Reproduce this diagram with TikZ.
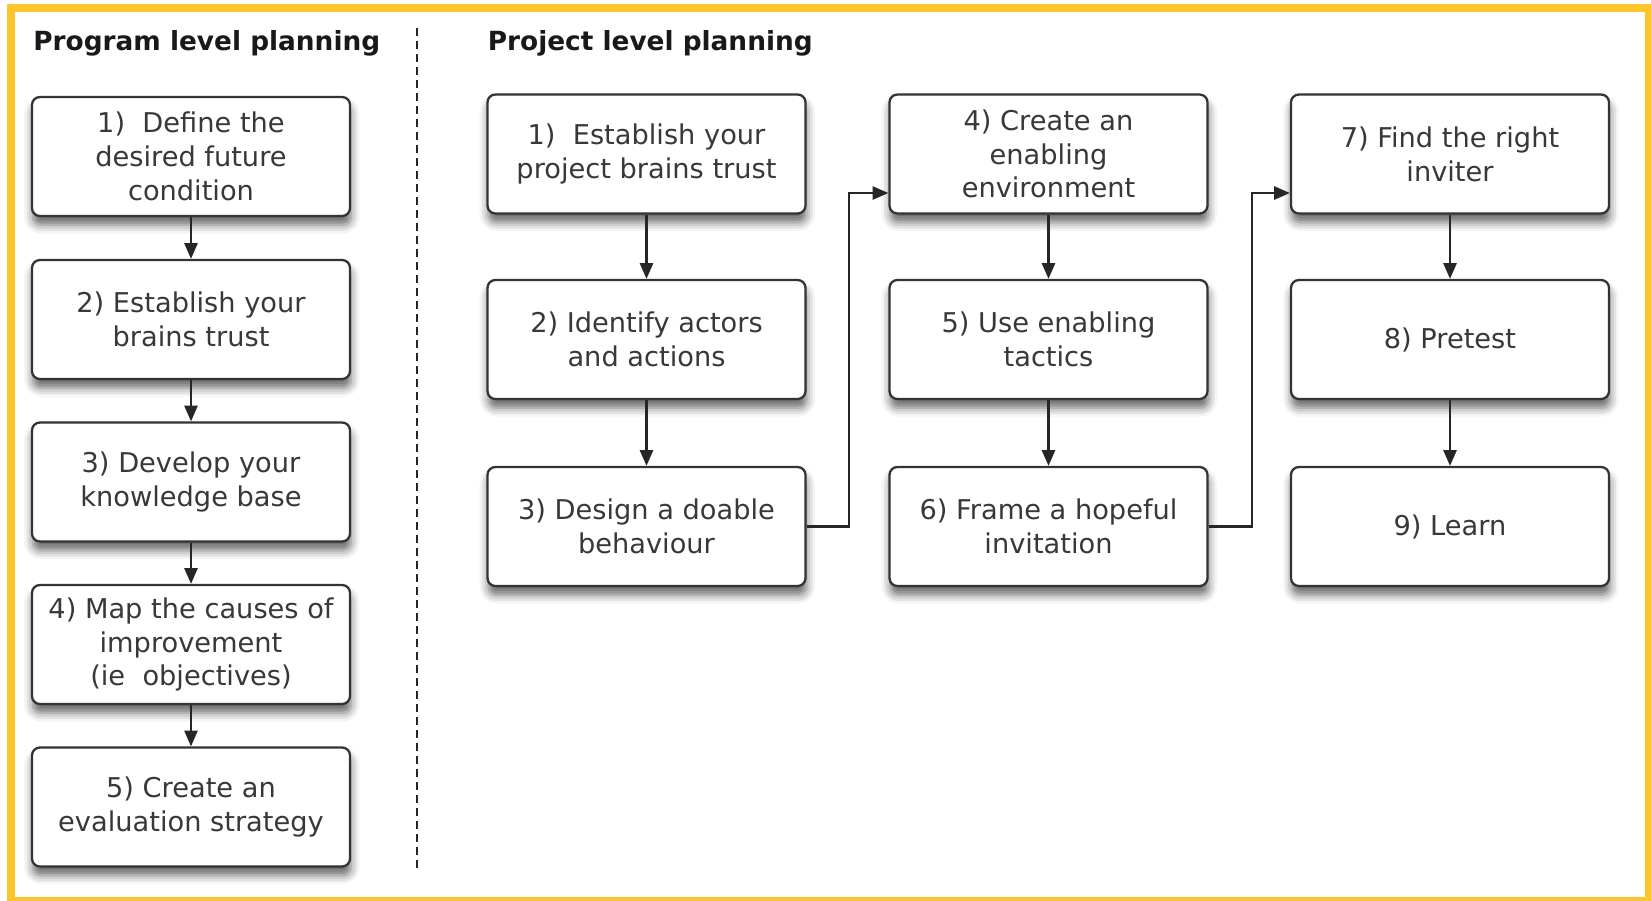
\documentclass[tikz,border=0pt]{standalone}
\usepackage{fontspec}
\setmainfont{DejaVu Sans}
\usetikzlibrary{arrows.meta,positioning,shadows.blur}
\definecolor{frameyellow}{RGB}{252,197,45}

\begin{document}
\begin{tikzpicture}[
    box/.style={draw=black!80, line width=1.3pt, rounded corners=4.5pt, fill=white, minimum width=6.36cm, minimum height=2.38cm, align=center, font=\fontsize{15.5}{19.2}\selectfont, text=black!78, blur shadow={shadow xshift=0.5pt, shadow yshift=-5pt, shadow blur radius=5pt, shadow opacity=60}},
    arr/.style={-{Triangle[length=9pt, width=7.5pt]}, line width=1.3pt, draw=black!85},
    head/.style={anchor=base west, font=\fontsize{15}{18}\selectfont\bfseries, text=black!90, inner sep=0pt}
]
\useasboundingbox (0,0) rectangle (33.02,-18);
\draw[frameyellow, line width=0.16cm] (0.22,-0.16) rectangle (32.98,-18.02);

% headings and divider
\node[head] (proghead) at (0.66,-1.0) {Program level planning};
\node[head] (projhead) at (9.75,-1.0) {Project level planning};
\draw[black!85, line width=0.8pt, dash pattern=on 0.16cm off 0.1cm] (8.34,-0.56) -- (8.34,-17.42);

% program level
\node[box] (prog1) at (3.82,-3.13) {1)\ \ Define the\\desired future\\condition};
\node[box] (prog2) at (3.82,-6.39) {2) Establish your\\brains trust};
\node[box] (prog3) at (3.82,-9.64) {3) Develop your\\knowledge base};
\node[box] (prog4) at (3.82,-12.89) {4) Map the causes of\\improvement\\(ie\ \ objectives)};
\node[box] (prog5) at (3.82,-16.14) {5) Create an\\evaluation strategy};

% project level
\node[box] (proj1) at (12.93,-3.08) {1)\ \ Establish your\\project brains trust};
\node[box] (proj2) at (12.93,-6.79) {2) Identify actors\\and actions};
\node[box] (proj3) at (12.93,-10.53) {3) Design a doable\\behaviour};
\node[box] (proj4) at (20.97,-3.08) {4) Create an\\enabling\\environment};
\node[box] (proj5) at (20.97,-6.79) {5) Use enabling\\tactics};
\node[box] (proj6) at (20.97,-10.53) {6) Frame a hopeful\\invitation};
\node[box] (proj7) at (29.0,-3.08) {7) Find the right\\inviter};
\node[box] (proj8) at (29.0,-6.79) {8) Pretest};
\node[box] (proj9) at (29.0,-10.53) {9) Learn};

\foreach \a/\b in {prog1/prog2, prog2/prog3, prog3/prog4, prog4/prog5, proj1/proj2, proj2/proj3, proj4/proj5, proj5/proj6, proj7/proj8, proj8/proj9}
  \draw[arr] (\a) -- (\b);
\draw[arr] (proj3.east) -- ++(0.84,0) |- ([yshift=-0.78cm]proj4.west);
\draw[arr] (proj6.east) -- ++(0.87,0) |- ([yshift=-0.78cm]proj7.west);
\end{tikzpicture}
\end{document}
